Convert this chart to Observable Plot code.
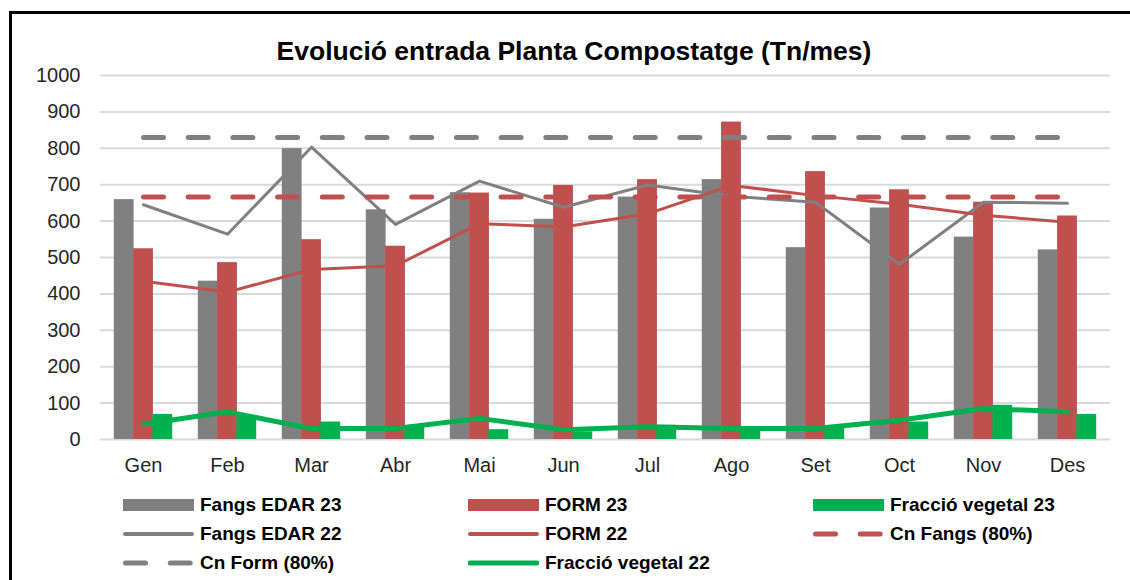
<!DOCTYPE html>
<html>
<head>
<meta charset="utf-8">
<script src="https://cdn.jsdelivr.net/npm/d3@7"></script>
<script src="https://cdn.jsdelivr.net/npm/@observablehq/plot@0.6"></script>
<style>
  html, body { margin: 0; padding: 0; background: #fff; }
  #wrap { position: relative; width: 1130px; height: 580px; overflow: hidden; font-family: "Liberation Sans", Arial, sans-serif; }
  #frame { position: absolute; left: 9px; top: 11px; width: 1200px; height: 700px; border: 3px solid #000; box-sizing: border-box; }
  #chart { position: absolute; left: 0; top: 0; }
  #title { position: absolute; left: 0; width: 1148px; top: 38px; line-height: 26px; text-align: center; font-weight: bold; font-size: 26.5px; color: #000; white-space: nowrap; }
  .leg { position: absolute; display: flex; align-items: center; font-weight: bold; font-size: 19px; color: #000; white-space: nowrap; }
  .leg svg { margin-right: 6px; }
</style>
</head>
<body>
<div id="wrap">
  <div id="frame"></div>
  <div id="chart"></div>
  <div id="title">Evolució entrada Planta Compostatge (Tn/mes)</div>
  <div id="legend"></div>
</div>
<script>
const months = ["Gen","Feb","Mar","Abr","Mai","Jun","Jul","Ago","Set","Oct","Nov","Des"];
const fangsEdar23 = [659, 435, 799, 631, 678, 605, 666, 714, 527, 636, 556, 521];
const form23      = [524, 486, 549, 531, 677, 698, 714, 872, 736, 686, 652, 614];
const vegetal23   = [69, 66, 48, 35, 27, 21, 39, 35, 35, 48, 94, 69];
const fangsEdar22 = [645, 564, 803, 591, 710, 638, 699, 668, 652, 481, 652, 649];
const form22      = [435, 405, 467, 477, 593, 584, 620, 698, 670, 646, 616, 597];
const vegetal22   = [42, 76, 30, 30, 58, 27, 35, 30, 30, 53, 85, 76];
const cnFangs80 = 666;
const cnForm80 = 830;
const yTicks = [0,100,200,300,400,500,600,700,800,900,1000];

const GRAY = "#808080", RED = "#c0504d", GREEN = "#00b050";

const data = months.map((m, i) => ({
  month: m,
  fangs23: fangsEdar23[i], form23: form23[i], veg23: vegetal23[i],
  fangs22: fangsEdar22[i], form22: form22[i], veg22: vegetal22[i],
  cnFangs: cnFangs80, cnForm: cnForm80
}));

const W = 1130, H = 480, ML = 100, MR = 20, MT = 75, MB = 41;
const bw = (W - ML - MR) / months.length;
const barW = 20;
const inset = (bw - barW) / 2;
const step = 19.3;

const chart = Plot.plot({
  width: W, height: H,
  marginLeft: ML, marginRight: MR, marginTop: MT, marginBottom: MB,
  style: { fontFamily: "'Liberation Sans', Arial, sans-serif", fontSize: "20px", color: "#262626", background: "transparent" },
  x: { domain: months, padding: 0, label: null, tickSize: 0, tickPadding: 18 },
  y: { domain: [0, 1000], ticks: yTicks, tickFormat: d => String(d), label: null, tickSize: 0, tickPadding: 20 },
  marks: [
    Plot.ruleY(yTicks, { stroke: "#d9d9d9", strokeWidth: 2 }),
    Plot.barY(data, { x: "month", y: "fangs23", fill: GRAY, insetLeft: inset, insetRight: inset, dx: -step }),
    Plot.barY(data, { x: "month", y: "form23", fill: RED, insetLeft: inset, insetRight: inset }),
    Plot.barY(data, { x: "month", y: "veg23", fill: GREEN, insetLeft: inset, insetRight: inset, dx: step }),
    Plot.lineY(data, { x: "month", y: "fangs22", stroke: GRAY, strokeWidth: 3 }),
    Plot.lineY(data, { x: "month", y: "form22", stroke: RED, strokeWidth: 3 }),
    Plot.lineY(data, { x: "month", y: "cnFangs", stroke: RED, strokeWidth: 5, strokeDasharray: "20,24.7", strokeLinecap: "round" }),
    Plot.lineY(data, { x: "month", y: "cnForm", stroke: GRAY, strokeWidth: 5, strokeDasharray: "20,24.7", strokeLinecap: "round" }),
    Plot.lineY(data, { x: "month", y: "veg22", stroke: GREEN, strokeWidth: 5, strokeLinecap: "round" })
  ]
});
document.getElementById("chart").appendChild(chart);

const legendItems = [
  { label: "Fangs EDAR 23", color: GRAY, type: "bar" },
  { label: "FORM 23", color: RED, type: "bar" },
  { label: "Fracció vegetal 23", color: GREEN, type: "bar" },
  { label: "Fangs EDAR 22", color: GRAY, type: "line", w: 4 },
  { label: "FORM 22", color: RED, type: "line", w: 4 },
  { label: "Cn Fangs (80%)", color: RED, type: "dash" },
  { label: "Cn Form (80%)", color: GRAY, type: "dash" },
  { label: "Fracció vegetal 22", color: GREEN, type: "line", w: 5 }
];
const colX = [123, 468, 813];
const rowY = [505, 534, 563];
const legend = document.getElementById("legend");
legendItems.forEach((it, i) => {
  const c = i % 3, r = Math.floor(i / 3);
  const div = document.createElement("div");
  div.className = "leg";
  div.style.left = colX[c] + "px";
  div.style.top = (rowY[r] - 12) + "px";
  div.style.height = "24px";
  let sw = "";
  if (it.type === "bar") sw = `<rect x="0" y="6" width="71" height="12" fill="${it.color}"/>`;
  else if (it.type === "line") sw = `<line x1="2" x2="69" y1="12" y2="12" stroke="${it.color}" stroke-width="${it.w}" stroke-linecap="round"/>`;
  else sw = `<line x1="2.5" x2="69" y1="12" y2="12" stroke="${it.color}" stroke-width="5" stroke-linecap="round" stroke-dasharray="20,24.7"/>`;
  div.innerHTML = `<svg width="71" height="24">${sw}</svg><span>${it.label}</span>`;
  legend.appendChild(div);
});
</script>
</body>
</html>
